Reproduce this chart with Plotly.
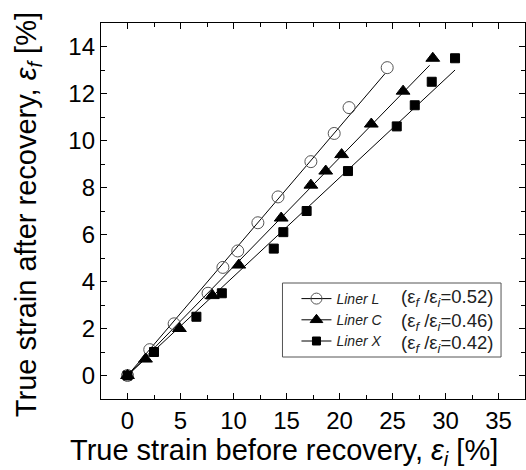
import plotly.graph_objects as go

# Data
names = ["Liner L", "Liner C", "Liner X"]
ratios = ["0.52", "0.46", "0.42"]

liner_L_x = [0, 2.1, 4.4, 7.6, 9.0, 10.4, 12.3, 14.2, 17.3, 19.5, 20.9, 24.5]
liner_L_y = [0, 1.1, 2.2, 3.5, 4.6, 5.3, 6.5, 7.6, 9.1, 10.3, 11.4, 13.1]

liner_C_x = [0, 1.7, 4.9, 8.0, 10.5, 14.5, 17.3, 18.7, 20.2, 23.0, 26.0, 28.8]
liner_C_y = [0, 0.7, 2.0, 3.4, 4.7, 6.7, 8.1, 8.7, 9.4, 10.7, 12.1, 13.5]

liner_X_x = [0, 2.5, 6.5, 8.9, 13.8, 14.7, 16.9, 20.8, 25.4, 27.1, 28.7, 30.9]
liner_X_y = [0, 1.0, 2.5, 3.5, 5.4, 6.1, 7.0, 8.7, 10.6, 11.5, 12.5, 13.5]

# Fitted lines (start and end)
fit_x_end = [24.3, 28.5, 30.9]
fit_y_end = [12.85, 13.2, 13.0]

x_ticks = [0, 5, 10, 15, 20, 25, 30, 35]
y_ticks = [0, 2, 4, 6, 8, 10, 12, 14]

x_title = "True strain before recovery, <i>ε<sub>i</sub></i> [%]"
y_title = "True strain after recovery, <i>ε<sub>f</sub></i> [%]"

symbols = ["circle-open", "triangle-up", "square"]
sizes = [12, 12, 9]
FONT = "Arial, Liberation Sans, sans-serif"

series = [(liner_L_x, liner_L_y), (liner_C_x, liner_C_y), (liner_X_x, liner_X_y)]

fig = go.Figure()
for i, (xs, ys) in enumerate(series):
    fig.add_trace(go.Scatter(
        x=[0, fit_x_end[i]], y=[0, fit_y_end[i]], mode="lines",
        line=dict(color="black", width=1), showlegend=False, hoverinfo="skip"))
for i, (xs, ys) in enumerate(series):
    mc = "#555555" if i == 0 else "black"
    fig.add_trace(go.Scatter(
        x=xs, y=ys, mode="markers", showlegend=False,
        marker=dict(symbol=symbols[i], size=sizes[i], color=mc,
                    line=dict(color=mc, width=1))))
# legend entries
for i in range(3):
    mc = "#555555" if i == 0 else "black"
    fig.add_trace(go.Scatter(
        x=[None], y=[None], mode="lines+markers", name="<i>" + names[i] + "</i>",
        line=dict(color="black", width=1),
        marker=dict(symbol=symbols[i], size=sizes[i] - 1, color=mc,
                    line=dict(color=mc, width=1))))

row_y = [0.2686, 0.2048, 0.1463]
for i in range(3):
    fig.add_annotation(
        xref="paper", yref="paper", x=0.7035, y=row_y[i], xanchor="left", yanchor="middle",
        text="(ε<sub><i>f</i></sub> /ε<sub><i>i</i></sub>=" + ratios[i] + ")",
        showarrow=False, font=dict(family=FONT, size=18.5, color="#222222"))

# axis titles
fig.add_annotation(xref="paper", yref="paper", x=0.4318, y=-0.141,
                   xanchor="center", yanchor="middle", text=x_title, showarrow=False,
                   font=dict(family=FONT, size=29, color="black"))
fig.add_annotation(xref="paper", yref="paper", x=-0.1706, y=0.4907, textangle=-90,
                   xanchor="center", yanchor="middle", text=y_title, showarrow=False,
                   font=dict(family=FONT, size=29, color="black"))

# legend frame
fig.add_shape(type="rect", xref="paper", yref="paper",
              x0=0.428, x1=0.9435, y0=0.1117, y1=0.3085,
              line=dict(color="#555555", width=1), layer="below")

axis_common = dict(
    showline=True, linecolor="black", linewidth=1.3, mirror="allticks",
    ticks="inside", ticklen=6, tickwidth=1, tickcolor="black",
    showgrid=False, zeroline=False,
    tickfont=dict(family=FONT, size=24, color="black"),
)

fig.update_xaxes(
    range=[-2.5, 37.5], tickvals=x_ticks,
    minor=dict(dtick=2.5, tick0=0, ticks="inside", ticklen=3.5, tickcolor="black", showgrid=False),
    **axis_common)
fig.update_yaxes(
    range=[-1, 15], tickvals=y_ticks,
    minor=dict(dtick=1, tick0=0, ticks="inside", ticklen=3.5, tickcolor="black", showgrid=False),
    **axis_common)

fig.update_layout(
    width=526, height=470,
    margin=dict(l=101, r=1, t=23, b=71, autoexpand=False),
    paper_bgcolor="white", plot_bgcolor="white",
    font=dict(family=FONT, color="black"),
    legend=dict(
        x=0.461, y=0.3085, xanchor="left", yanchor="top",
        borderwidth=0, bgcolor="rgba(0,0,0,0)",
        font=dict(family=FONT, size=14, color="#222222"),
        itemwidth=30, tracegroupgap=0,
    ),
)
fig.update_xaxes(automargin=False)
fig.update_yaxes(automargin=False)

fig.write_html("out.html", config={"displayModeBar": False},
               post_script="document.body.style.margin='0px';")
